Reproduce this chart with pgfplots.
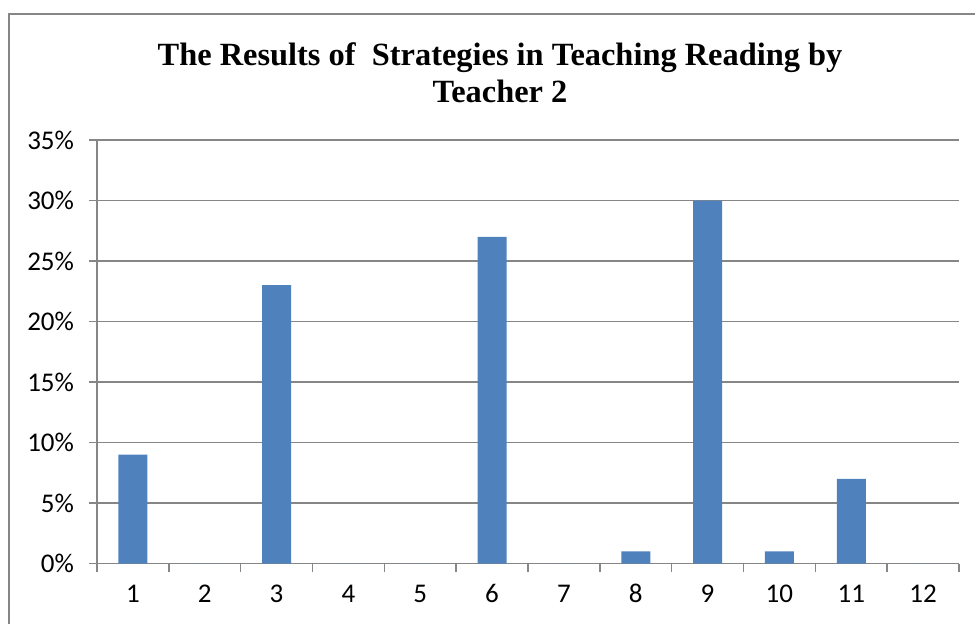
\documentclass[border=0pt]{standalone}
\usepackage{fontspec}
\setmainfont{Carlito}
\newfontfamily\titlefont{Liberation Serif}
\usepackage{pgfplots}
\pgfplotsset{compat=1.18}
\definecolor{barblue}{HTML}{4F81BD}
\definecolor{gridgray}{HTML}{868686}
\begin{document}
\begin{tikzpicture}[x=0.5pt,y=0.5pt]
\begin{axis}[
  at={(48.5pt,29.75pt)}, anchor=south west,
  scale only axis,
  width=431pt, height=211.75pt,
  xmin=0.5, xmax=12.5,
  ymin=0, ymax=35,
  axis lines*=left,
  axis line style={gridgray, line width=0.8pt},
  xtick={1,...,12},
  major x tick style={draw=none},
  minor xtick={0.5,1.5,...,12.5},
  minor tick length=4pt,
  minor x tick style={gridgray, line width=0.8pt},
  ytick={0,5,...,35},
  ymajorgrids,
  grid style={gridgray, line width=0.8pt},
  major tick length=4pt,
  tick align=outside,
  ytick style={gridgray, line width=0.8pt},
  yticklabel={\pgfmathprintnumber{\tick}\%},
  /pgf/number format/assume math mode=true,
  tick label style={font=\fontsize{13.5}{16}\selectfont, text=black},
  yticklabel style={xshift=-4pt},
  xticklabel style={yshift=-5pt, text height=1.45ex, text depth=0.2ex},
  ybar, bar width=14.5pt,
  clip=false,
]
\addplot[fill=barblue, draw=none] coordinates {
 (1,9) (2,0) (3,23) (4,0) (5,0) (6,27) (7,0) (8,1) (9,30) (10,1) (11,7) (12,0)};
\end{axis}
\node[align=center, font=\titlefont\bfseries\fontsize{16.2}{18.5}\selectfont] at (500,550)
  {The Results of\ \ Strategies in Teaching Reading by\\Teacher 2};
\draw[gridgray, line width=0.8pt] (9,-20) -- (9,609) -- (1000,609);
\pgfresetboundingbox
\useasboundingbox (0,0) rectangle (975,623);
\end{tikzpicture}
\end{document}
